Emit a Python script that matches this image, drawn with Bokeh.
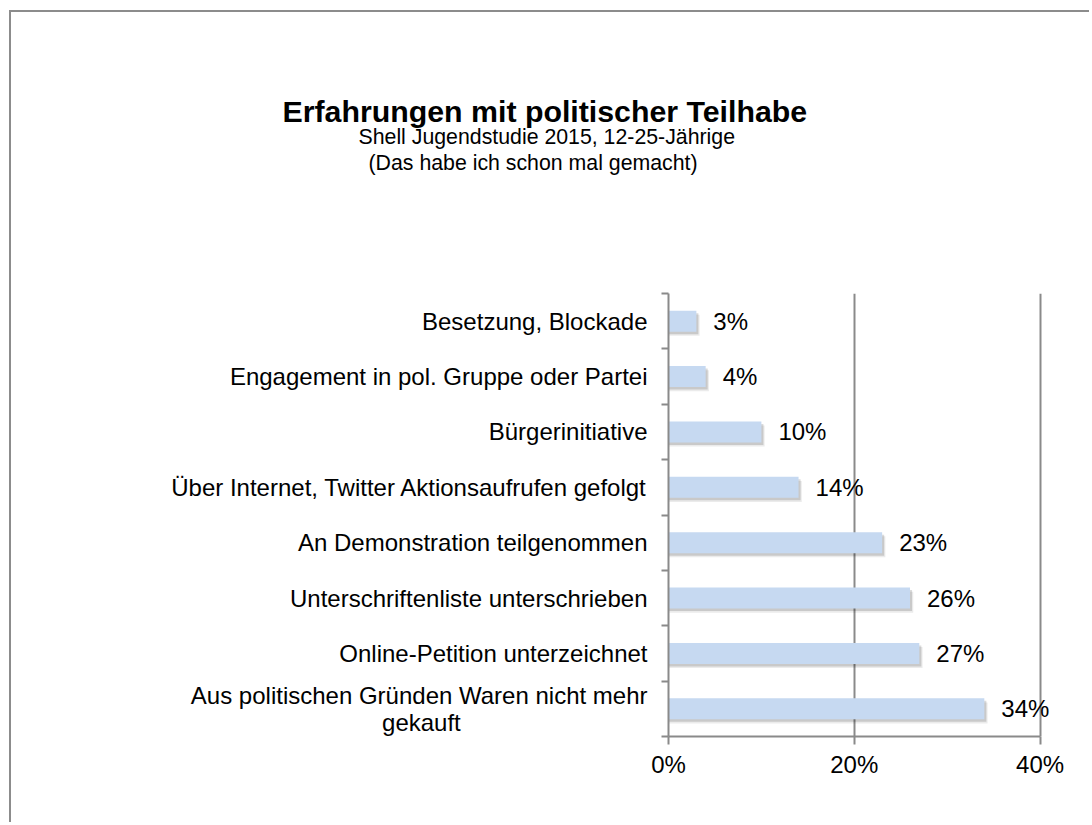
from bokeh.plotting import figure
from bokeh.models import ColumnDataSource, Range1d, FixedTicker, LabelSet, Title, PrintfTickFormatter
from bokeh.embed import file_html
from bokeh.resources import INLINE
from bokeh.transform import dodge
from bokeh.core.properties import value

categories = [
    "Besetzung, Blockade",
    "Engagement in pol. Gruppe oder Partei",
    "Bürgerinitiative",
    "Über Internet, Twitter Aktionsaufrufen gefolgt",
    "An Demonstration teilgenommen",
    "Unterschriftenliste unterschrieben",
    "Online-Petition unterzeichnet",
    "Aus politischen Gründen Waren nicht mehr\ngekauft",
]
values = [3, 4, 10, 14, 23, 26, 27, 34]
x_ticks = [0, 20, 40]
title_text = "Erfahrungen mit politischer Teilhabe"
subtitle_lines = ["Shell Jugendstudie 2015, 12-25-Jährige", "(Das habe ich schon mal gemacht)"]

FONT = "Liberation Sans"
GRAY = "#8a8a8a"
BAR = "#c6d9f1"

n = len(categories)
pos = [n - 0.5 - i for i in range(n)]
labels = [f"{v}%" for v in values]
src = ColumnDataSource(dict(cat=categories, val=values, pos=pos, label=labels))

# approximate Arial/Liberation Sans advance widths (em/1000) to centre wrapped lines
def text_em(s):
    w = 0
    for ch in s:
        if ch in "ijl":
            w += 222
        elif ch in " ft.,I":
            w += 278
        elif ch in "r-":
            w += 333
        elif ch in "skcvxyzJ":
            w += 500
        elif ch == "m":
            w += 833
        elif ch == "w":
            w += 722
        elif ch == "W":
            w += 944
        elif ch in "ABEKPSVXY":
            w += 667
        elif ch in "CDHNRU":
            w += 722
        elif ch in "GOQ":
            w += 778
        else:
            w += 556
    return w

def centre_wrapped(label):
    lines = label.split("\n")
    if len(lines) == 1:
        return label
    pad = round((text_em(lines[0]) - text_em(lines[1])) / 2 / 278)
    return lines[0] + "\n" + lines[1] + "\u00a0" * pad

p = figure(width=1080, height=812, x_range=Range1d(0, 45), y_range=Range1d(0, n),
           output_backend="svg", toolbar_location=None,
           min_border_left=657, min_border_right=5, min_border_top=281, min_border_bottom=88)
p.outline_line_color = None
p.background_fill_color = "white"
p.border_fill_color = "white"
p.styles = {"margin-left": "9px", "margin-top": "10px",
            "border-top": "2px solid #8c8c8c", "border-left": "2px solid #8c8c8c"}

# shadows (soft, offset down/right)
p.hbar(y=dodge("pos", -0.075, range=p.y_range), left=0, right=dodge("val", 0.35, range=p.x_range),
       height=0.38, source=src, fill_color="black", fill_alpha=0.08, line_color=None)
p.hbar(y=dodge("pos", -0.045, range=p.y_range), left=0, right=dodge("val", 0.22, range=p.x_range),
       height=0.38, source=src, fill_color="black", fill_alpha=0.14, line_color=None)
# bars
p.hbar(y="pos", left=0, right="val", height=0.38, source=src, fill_color=BAR, line_color=None)

p.add_layout(LabelSet(x="val", y="pos", text="label", source=src, x_offset=17,
                      text_baseline="middle", text_align="left", text_font=value(FONT),
                      text_font_size="24px", text_color="black"))

# x axis
xt = FixedTicker(ticks=x_ticks)
xa = p.xaxis[0]
xa.ticker = xt
xa.bounds = (x_ticks[0], x_ticks[-1])
xa.formatter = PrintfTickFormatter(format="%d%%")
xa.axis_line_color = GRAY
xa.axis_line_width = 2
xa.major_tick_line_color = GRAY
xa.major_tick_line_width = 2
xa.major_tick_in = 0
xa.major_tick_out = 8
xa.minor_tick_line_color = None
xa.major_label_standoff = 6
xa.major_label_text_font = FONT
xa.major_label_text_font_size = "24px"
xa.major_label_text_color = "black"

p.xgrid.ticker = xt
p.xgrid.grid_line_color = GRAY
p.xgrid.grid_line_width = 2
p.ygrid.visible = False

# y axis
ya = p.yaxis[0]
ya.ticker = FixedTicker(ticks=pos, minor_ticks=[float(i) for i in range(n + 1)])
ya.major_label_overrides = {pp: centre_wrapped(c) for pp, c in zip(pos, categories)}
ya.axis_line_color = GRAY
ya.axis_line_width = 2
ya.major_tick_line_color = None
ya.major_tick_in = 0
ya.major_tick_out = 0
ya.minor_tick_line_color = GRAY
ya.minor_tick_line_width = 2
ya.minor_tick_in = 0
ya.minor_tick_out = 7
ya.major_label_standoff = 14
ya.major_label_text_font = FONT
ya.major_label_text_font_size = "24px"
ya.major_label_text_line_height = 1.0
ya.major_label_text_color = "black"

# titles (stacked above; first added sits closest to the plot)
p.add_layout(Title(text=" ", text_font=FONT, text_font_size="10px", standoff=106), "above")
p.add_layout(Title(text=subtitle_lines[1], align="left", offset=-300, text_font=FONT,
                   text_font_size="21.3px", text_font_style="normal", text_color="black",
                   standoff=0), "above")
p.add_layout(Title(text=subtitle_lines[0], align="left", offset=-310, text_font=FONT,
                   text_font_size="21.3px", text_font_style="normal", text_color="black",
                   standoff=0), "above")
p.add_layout(Title(text=title_text, align="left", offset=-386, text_font=FONT,
                   text_font_size="30.3px", text_font_style="bold", text_color="black",
                   standoff=-10), "above")

open("out.html", "w").write(file_html(p, INLINE))
